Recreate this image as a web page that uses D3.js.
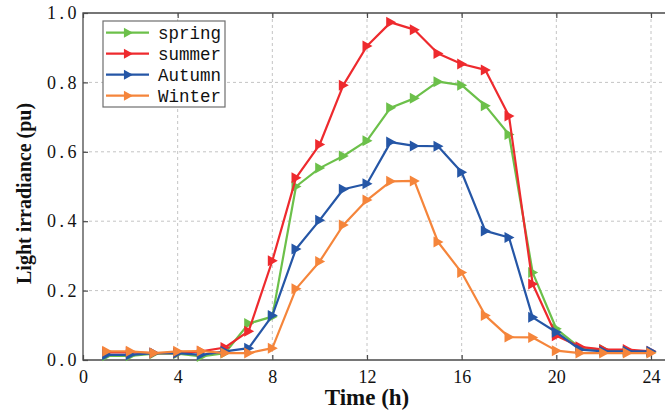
<!DOCTYPE html>
<html>
<head>
<meta charset="utf-8">
<script src="https://cdn.jsdelivr.net/npm/d3@7"></script>
<style>
  html, body { margin: 0; padding: 0; background: #fff; }
  svg { display: block; }
</style>
</head>
<body>
<svg id="chart" width="665" height="412"></svg>
<script>
// Hourly light irradiance (per unit) for each season
const hours = d3.range(1, 25);
const spring = [0.012, 0.012, 0.018, 0.018, 0.010, 0.020, 0.105, 0.125, 0.500, 0.553, 0.588, 0.632,
                0.727, 0.754, 0.802, 0.792, 0.733, 0.650, 0.252, 0.090, 0.035, 0.030, 0.025, 0.022];
const summer = [0.022, 0.022, 0.020, 0.020, 0.025, 0.036, 0.083, 0.286, 0.525, 0.621, 0.792, 0.905,
                0.973, 0.952, 0.883, 0.853, 0.836, 0.703, 0.219, 0.070, 0.038, 0.030, 0.030, 0.025];
const autumn = [0.015, 0.015, 0.020, 0.020, 0.015, 0.025, 0.034, 0.128, 0.320, 0.403, 0.492, 0.508,
                0.628, 0.617, 0.616, 0.541, 0.372, 0.353, 0.123, 0.080, 0.030, 0.025, 0.025, 0.025];
const winter = [0.025, 0.025, 0.020, 0.025, 0.026, 0.020, 0.020, 0.034, 0.205, 0.284, 0.389, 0.461,
                0.515, 0.516, 0.340, 0.252, 0.128, 0.066, 0.065, 0.027, 0.020, 0.020, 0.020, 0.020];

const seriesNames = ["spring", "summer", "Autumn", "Winter"];
const seriesValues = [spring, summer, autumn, winter];
const seriesColors = ["#6cc04a", "#ee2a2e", "#2556a6", "#f5853b"];

const xTicks = [0, 4, 8, 12, 16, 20, 24];
const yTicks = [0, 0.2, 0.4, 0.6, 0.8, 1.0];

const svg = d3.select("#chart");
const plotLeft = 83, plotTop = 13, plotBottom = 360;

const x = d3.scaleLinear().domain([0, 24]).range([plotLeft, 651]);
const y = d3.scaleLinear().domain([0, 1]).range([plotBottom, plotTop]);
const plotRight = x(25);

// dashed grid
const grid = svg.append("g").attr("stroke", "#c4c4c4").attr("stroke-width", 1)
  .attr("stroke-dasharray", "3,3");
grid.selectAll("line.v").data(xTicks.filter(t => t > 0)).join("line")
  .attr("x1", d => x(d)).attr("x2", d => x(d)).attr("y1", plotTop).attr("y2", plotBottom);
grid.selectAll("line.h").data(yTicks.filter(t => t > 0 && t < 1)).join("line")
  .attr("x1", plotLeft).attr("x2", plotRight).attr("y1", d => y(d)).attr("y2", d => y(d));

// frame
const axisColor = "#4a4a4a";
svg.append("path")
  .attr("d", `M${plotRight},${plotTop}H${plotLeft}V${plotBottom}H${plotRight}`)
  .attr("fill", "none").attr("stroke", axisColor).attr("stroke-width", 1.3);

// inward ticks via d3 axes
const tickFont = "'Liberation Serif', 'Times New Roman', serif";
const xAxis = svg.append("g").attr("transform", `translate(0,${plotBottom})`)
  .call(d3.axisBottom(x).tickValues(xTicks).tickSizeInner(-5).tickSizeOuter(0).tickPadding(10).tickFormat(d3.format("d")));
const xAxisTop = svg.append("g").attr("transform", `translate(0,${plotTop})`)
  .call(d3.axisTop(x).tickValues(xTicks).tickSizeInner(-5).tickSizeOuter(0).tickFormat(""));
const yAxis = svg.append("g").attr("transform", `translate(${plotLeft},0)`)
  .call(d3.axisLeft(y).tickValues(yTicks).tickSizeInner(-5).tickSizeOuter(0).tickPadding(6).tickFormat(d3.format(".1f")));
[xAxis, xAxisTop, yAxis].forEach(g => {
  g.select(".domain").remove();
  g.selectAll(".tick line").attr("stroke", axisColor).attr("stroke-width", 1.2);
  g.selectAll(".tick text").attr("fill", "#111").style("font-family", tickFont).style("font-size", "18px");
});
xAxis.selectAll(".tick text").attr("dy", "0.71em");
yAxis.selectAll(".tick text").style("letter-spacing", "3.5px").attr("dx", "3px");

// axis titles
svg.append("text")
  .attr("x", x(12)).attr("y", 405).attr("text-anchor", "middle")
  .style("font-family", tickFont).style("font-weight", "bold").style("font-size", "23px")
  .attr("fill", "#111").text("Time (h)");
svg.append("text")
  .attr("transform", `translate(31,${y(0.48)}) rotate(-90)`).attr("text-anchor", "middle")
  .style("font-family", tickFont).style("font-weight", "bold").style("font-size", "20px")
  .attr("fill", "#111").text("Light irradiance (pu)");

// right-pointing triangle marker
const tri = (cx, cy, s) => `M${cx - s * 0.45},${cy - s * 0.55}L${cx + s * 0.55},${cy}L${cx - s * 0.45},${cy + s * 0.55}Z`;

const line = d3.line().x((d, i) => x(hours[i])).y(d => y(d));
seriesValues.forEach((vals, k) => {
  const g = svg.append("g");
  g.append("path").datum(vals).attr("d", line)
    .attr("fill", "none").attr("stroke", seriesColors[k]).attr("stroke-width", 2.2)
    .attr("stroke-linejoin", "round");
  g.selectAll("path.m").data(vals).join("path")
    .attr("d", (d, i) => tri(x(hours[i]), y(d), 10))
    .attr("fill", seriesColors[k]);
});

// legend
const lg = svg.append("g");
lg.append("rect").attr("x", 103).attr("y", 21).attr("width", 122).attr("height", 86)
  .attr("fill", "#fff").attr("stroke", "#6e6e6e").attr("stroke-width", 1.2);
seriesNames.forEach((name, k) => {
  const cy = 32.7 + k * 21;
  lg.append("line").attr("x1", 106).attr("x2", 149).attr("y1", cy).attr("y2", cy)
    .attr("stroke", seriesColors[k]).attr("stroke-width", 2.2);
  lg.append("path").attr("d", tri(128, cy, 9)).attr("fill", seriesColors[k]);
  lg.append("text").attr("x", 158).attr("y", cy).attr("dy", "0.36em")
    .style("font-family", "'Liberation Mono', 'DejaVu Sans Mono', monospace").style("font-size", "17.5px")
    .attr("fill", "#111").text(name);
});
</script>
</body>
</html>
